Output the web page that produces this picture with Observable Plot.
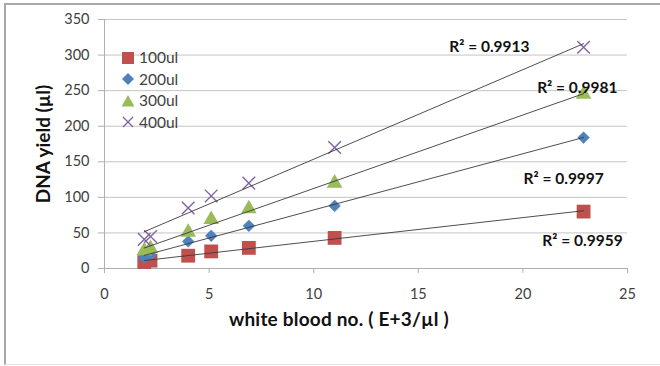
<!DOCTYPE html>
<html>
<head>
<meta charset="utf-8">
<script src="https://cdn.jsdelivr.net/npm/d3@7"></script>
<script src="https://cdn.jsdelivr.net/npm/@observablehq/plot@0.6"></script>
<style>
  html, body { margin: 0; padding: 0; background: #fff; }
  #wrap { position: relative; width: 660px; height: 366px; overflow: hidden; font-family: Lato, "Open Sans", sans-serif; }
  #frame { position: absolute; left: 4px; top: 3px; width: 670px; height: 359px; border-top: 2px solid #a8a8a8; border-left: 2px solid #a8a8a8; border-bottom: 1px solid #e4e4e4; }
  .ttl { position: absolute; font-weight: bold; font-size: 19px; color: #111; white-space: nowrap; }
  #ytitle { left: 42px; top: 144px; transform: translate(-50%, -50%) rotate(-90deg); }
  #xtitle { left: 339px; top: 318px; transform: translate(-50%, -50%); letter-spacing: 0.2px; }
  #legend { position: absolute; left: 120px; top: 47px; font-size: 15.5px; color: #404040; line-height: 21.5px; }
  #legend div { display: flex; align-items: center; height: 21.5px; }
  #legend svg { width: 16px; height: 16px; margin-right: 3px; }
</style>
</head>
<body>
<div id="wrap">
  <div id="frame"></div>
  <div id="chart"></div>
  <div id="ytitle" class="ttl">DNA yield (µl)</div>
  <div id="xtitle" class="ttl">white blood no. ( E+3/µl )</div>
  <div id="legend"></div>
</div>
<script>
// ---- data ----
const seriesNames = ["100ul", "200ul", "300ul", "400ul"];
const wbc = [1.9, 2.2, 4.0, 5.1, 6.9, 11.0, 22.9];
const y100 = [9, 11, 18, 24, 29, 43, 80];
const y200 = [15, 19, 38, 46, 60, 88, 184];
const y300 = [25, 28, 51, 69, 84, 120, 245];
const y400 = [41, 45, 85, 102, 120, 170, 311];
const r2Values = ["0.9913", "0.9981", "0.9997", "0.9959"];
const r2Series = ["400ul", "300ul", "200ul", "100ul"];
const r2AnchorX = [18.4, 22.6, 21.95, 22.85];
const r2AnchorY = [311, 254, 126, 39];
const xTicks = [0, 5, 10, 15, 20, 25];
const yTicks = [0, 50, 100, 150, 200, 250, 300, 350];

// ---- build table ----
const allY = [y100, y200, y300, y400];
const rows = [];
seriesNames.forEach((s, i) => wbc.forEach((x, j) => rows.push({series: s, x, y: allY[i][j]})));
const r2Rows = r2Values.map((v, i) => ({label: "R\u00b2 = " + v, series: r2Series[i], x: r2AnchorX[i], y: r2AnchorY[i]}));

const colors = {"100ul": "#C0504D", "200ul": "#4F81BD", "300ul": "#9BBB59", "400ul": "#8064A2"};
const byS = s => rows.filter(d => d.series === s);

const chart = Plot.plot({
  width: 660,
  height: 366,
  marginLeft: 104,
  marginRight: 33,
  marginTop: 19,
  marginBottom: 98,
  style: {background: "transparent", fontFamily: "Lato, 'Open Sans', sans-serif"},
  x: {domain: [0, 25], ticks: xTicks},
  y: {domain: [0, 350], ticks: yTicks},
  marks: [
    Plot.gridY(yTicks, {stroke: "#c4c4c4", strokeOpacity: 1}),
    Plot.ruleX([0], {stroke: "#b0b0b0"}),
    Plot.ruleY([0], {stroke: "#b0b0b0"}),
    Plot.axisY(yTicks, {tickSize: 6, tickPadding: 9, fontSize: 14.5, stroke: "#b0b0b0", fill: "#404040", label: null}),
    Plot.axisX(xTicks, {tickSize: 5, tickPadding: 15, fontSize: 14.5, stroke: "#b0b0b0", fill: "#404040", label: null}),
    Plot.dot(byS("100ul"), {x: "x", y: "y", symbol: "square", fill: colors["100ul"], r: 7.8}),
    Plot.dot(byS("200ul"), {x: "x", y: "y", symbol: "diamond2", fill: colors["200ul"], stroke: colors["200ul"], strokeWidth: 0.5, r: 5.3}),
    Plot.dot(byS("300ul"), {x: "x", y: "y", symbol: "triangle", fill: colors["300ul"], r: 5.8}),
    Plot.dot(byS("400ul"), {x: "x", y: "y", symbol: "times", stroke: colors["400ul"], strokeWidth: 1.4, r: 5.8}),
    Plot.linearRegressionY(rows, {x: "x", y: "y", z: "series", stroke: "#3a3a3a", strokeWidth: 0.9, ci: 0}),
    Plot.text(r2Rows, {x: "x", y: "y", text: "label", fontWeight: "bold", fontSize: 15.5, fill: "#111"})
  ]
});
document.getElementById("chart").appendChild(chart);

// ---- legend (HTML overlay) ----
const legendShapes = {
  "100ul": `<rect x="2" y="2" width="12" height="12" fill="${colors["100ul"]}"/>`,
  "200ul": `<path d="M8 2 L14 8 L8 14 L2 8 Z" fill="${colors["200ul"]}"/>`,
  "300ul": `<path d="M8 2 L14.5 13.5 L1.5 13.5 Z" fill="${colors["300ul"]}"/>`,
  "400ul": `<path d="M3 3 L13 13 M13 3 L3 13" stroke="${colors["400ul"]}" stroke-width="1.4"/>`
};
const leg = document.getElementById("legend");
seriesNames.forEach(s => {
  const d = document.createElement("div");
  d.innerHTML = `<svg viewBox="0 0 16 16">${legendShapes[s]}</svg><span>${s}</span>`;
  leg.appendChild(d);
});
</script>
</body>
</html>
